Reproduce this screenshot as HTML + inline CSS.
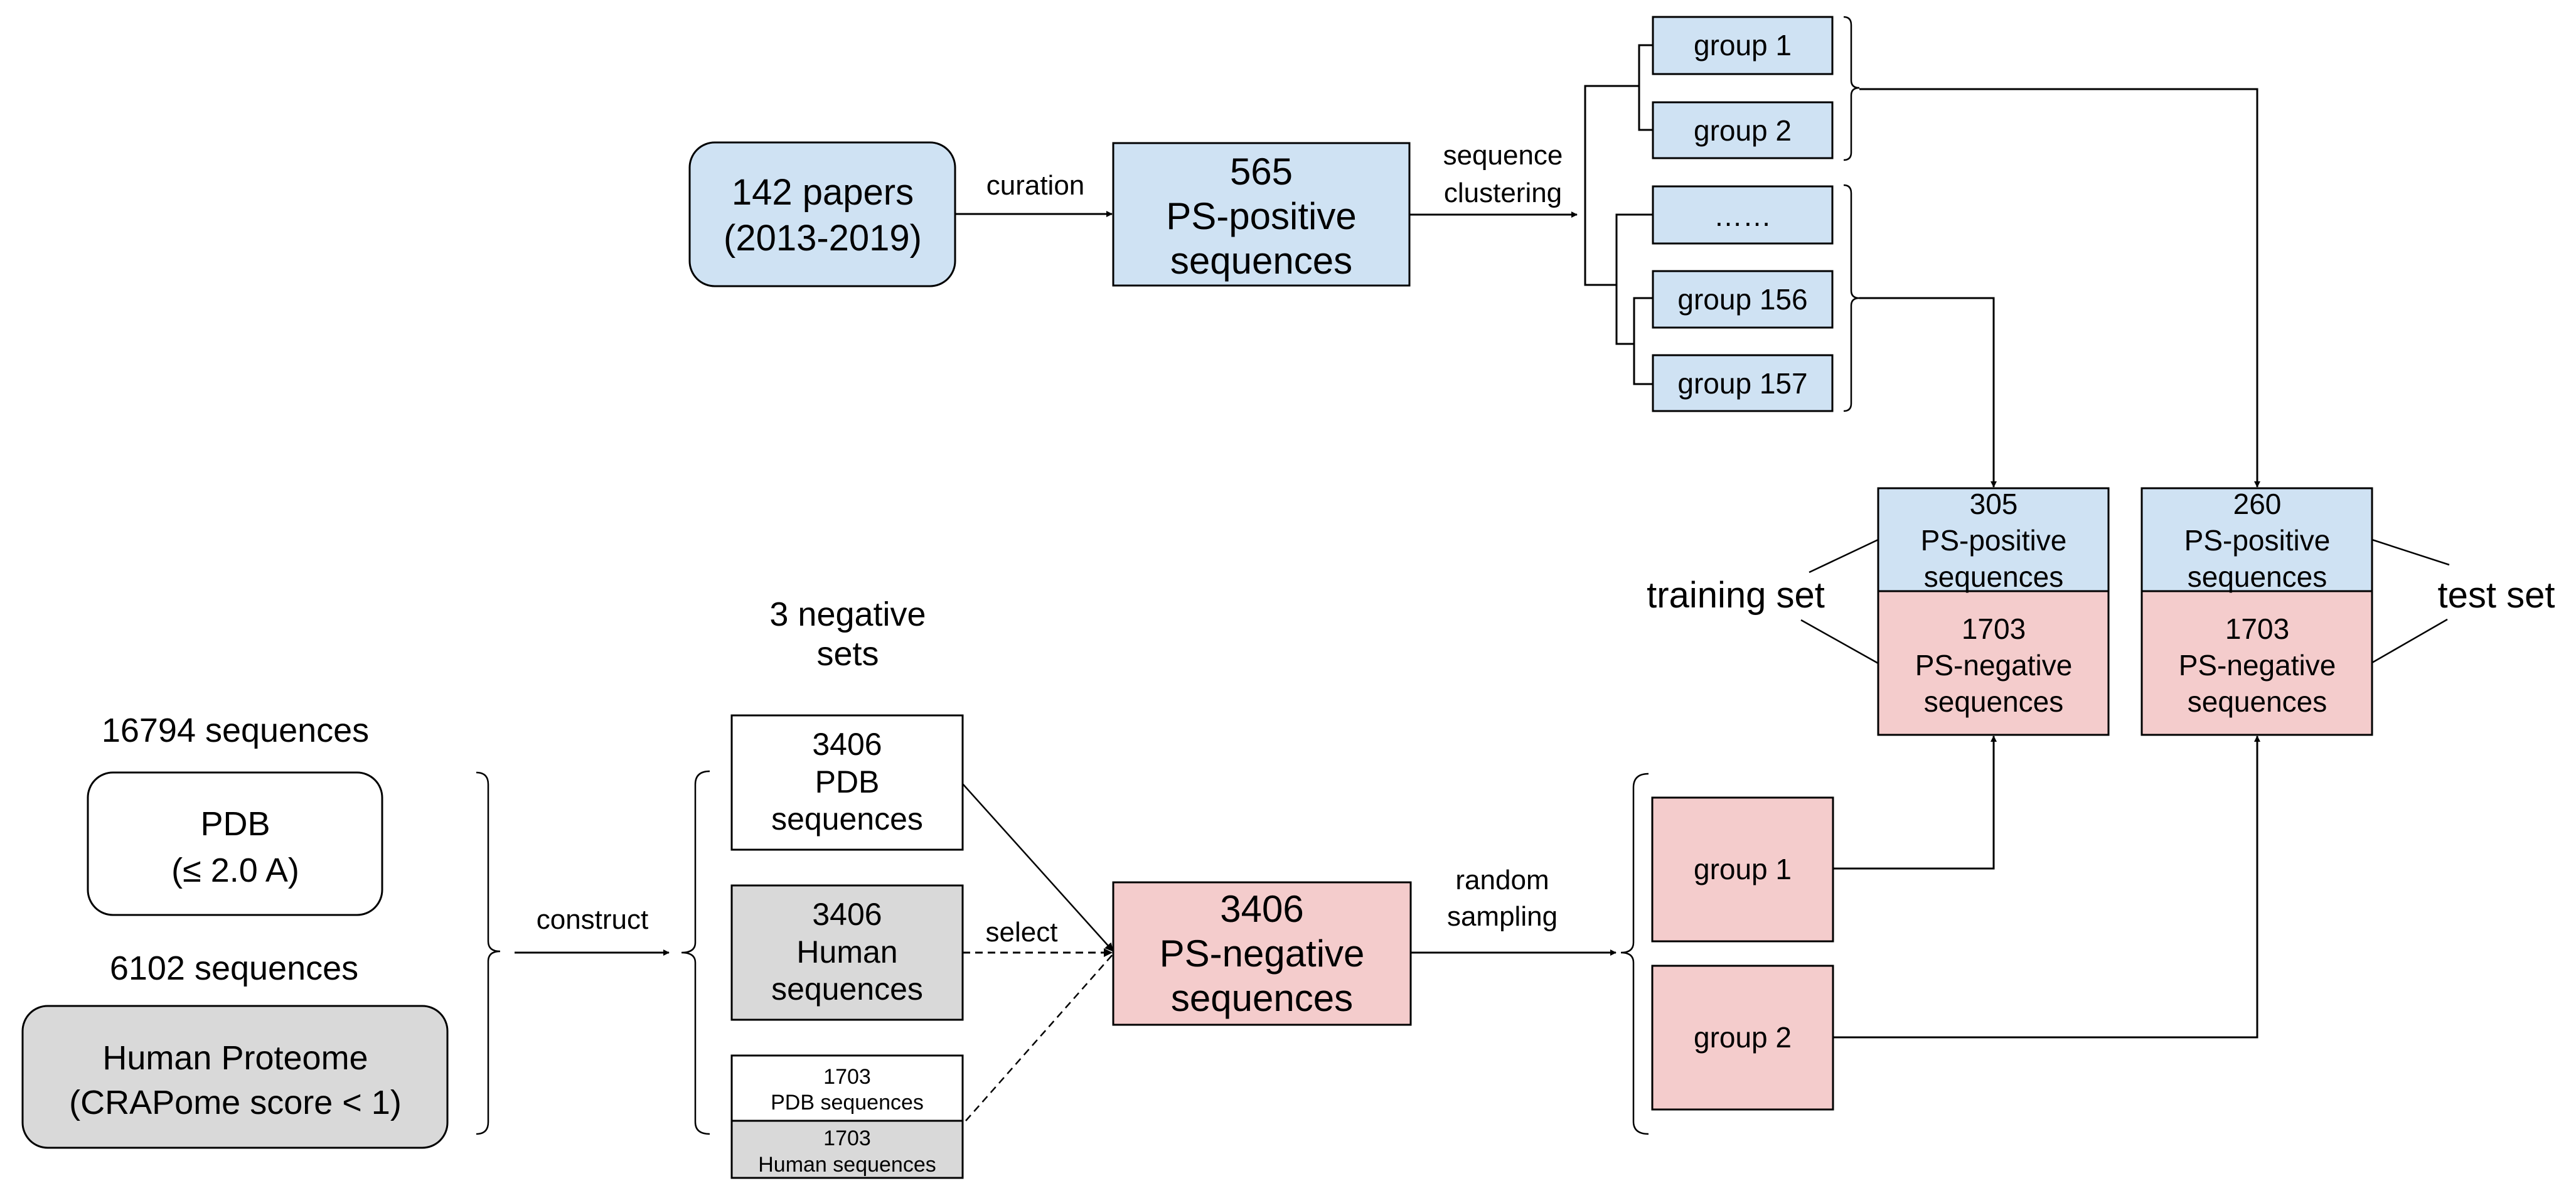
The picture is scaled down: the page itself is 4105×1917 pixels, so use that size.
<!DOCTYPE html>
<html><head><meta charset="utf-8"><style>
html,body{margin:0;padding:0;background:#fff;}
svg{display:block;}
text{font-family:"Liberation Sans",Arial,sans-serif;fill:#000;}
</style></head><body>
<svg width="4105" height="1917" viewBox="0 0 4105 1917" xmlns="http://www.w3.org/2000/svg">
<defs>
<marker id="ah" markerWidth="10" markerHeight="10" refX="9" refY="5" orient="auto" markerUnits="userSpaceOnUse">
<path d="M0,0 L10,5 L0,10 z" fill="#000"/>
</marker>
<marker id="ah2" markerWidth="14" markerHeight="14" refX="13" refY="7" orient="auto" markerUnits="userSpaceOnUse">
<path d="M0,0 L14,7 L0,14 z" fill="#000"/>
</marker>
</defs>
<g stroke="#000" stroke-width="3" fill="none">
<!-- top row -->
<rect x="1099" y="227" width="423" height="229" rx="40" fill="#cfe2f3"/>
<rect x="1774" y="228" width="472" height="227" fill="#cfe2f3"/>
<line x1="1522" y1="341" x2="1772" y2="341" marker-end="url(#ah)"/>
<line x1="2246" y1="342" x2="2513" y2="342" marker-end="url(#ah)"/>
<!-- tree -->
<polyline points="2612,72 2634,72"/>
<polyline points="2634,72 2612,72 2612,207 2634,207"/>
<polyline points="2612,137 2526,137 2526,454 2576,454"/>
<polyline points="2634,342 2576,342 2576,548 2604,548"/>
<polyline points="2634,475 2604,475 2604,612 2634,612"/>
<rect x="2634" y="27" width="286" height="91" fill="#cfe2f3"/>
<rect x="2634" y="163" width="286" height="89" fill="#cfe2f3"/>
<rect x="2634" y="297" width="286" height="91" fill="#cfe2f3"/>
<rect x="2634" y="432" width="286" height="90" fill="#cfe2f3"/>
<rect x="2634" y="566" width="286" height="89" fill="#cfe2f3"/>
<!-- right braces top -->
<path d="M2938,27 Q2950,27 2950,40 L2950,128 Q2950,140 2963,140 Q2950,140 2950,152 L2950,243 Q2950,255 2938,255" stroke-width="2.5"/>
<path d="M2938,295 Q2950,295 2950,308 L2950,463 Q2950,475 2963,475 Q2950,475 2950,487 L2950,643 Q2950,655 2938,655" stroke-width="2.5"/>
<polyline points="2963,142 3597,142 3597,776" marker-end="url(#ah)"/>
<polyline points="2963,475 3177,475 3177,776" marker-end="url(#ah)"/>
<!-- train/test boxes -->
<rect x="2993" y="778" width="367" height="164" fill="#cfe2f3"/>
<rect x="2993" y="942" width="367" height="229" fill="#f4cccc"/>
<rect x="3413" y="778" width="367" height="164" fill="#cfe2f3"/>
<rect x="3413" y="942" width="367" height="229" fill="#f4cccc"/>
<line x1="2993" y1="860" x2="2883" y2="912" stroke-width="2.5"/>
<line x1="2993" y1="1057" x2="2870" y2="988" stroke-width="2.5"/>
<line x1="3780" y1="860" x2="3903" y2="900" stroke-width="2.5"/>
<line x1="3780" y1="1056" x2="3900" y2="987" stroke-width="2.5"/>
<!-- bottom left -->
<rect x="140" y="1231" width="469" height="227" rx="40" fill="#fff"/>
<rect x="36" y="1603" width="677" height="226" rx="40" fill="#d9d9d9"/>
<path d="M759,1231 Q778,1231 778,1250 L778,1500 Q778,1516 797,1516 Q778,1516 778,1532 L778,1788 Q778,1807 759,1807" stroke-width="2.5"/>
<line x1="820" y1="1518" x2="1066" y2="1518" marker-end="url(#ah)"/>
<path d="M1131,1229 Q1108,1229 1108,1250 L1108,1502 Q1108,1518 1086,1518 Q1108,1518 1108,1534 L1108,1788 Q1108,1807 1131,1807" stroke-width="2.5"/>
<rect x="1166" y="1140" width="368" height="214" fill="#fff"/>
<rect x="1166" y="1411" width="368" height="214" fill="#d9d9d9"/>
<rect x="1166" y="1682" width="368" height="104" fill="#fff"/>
<rect x="1166" y="1786" width="368" height="91" fill="#d9d9d9"/>
<rect x="1774" y="1406" width="474" height="227" fill="#f4cccc"/>
<line x1="1534" y1="1249" x2="1774" y2="1516" stroke-width="2.5" marker-end="url(#ah2)"/>
<line x1="1534" y1="1518" x2="1772" y2="1518" stroke-dasharray="12,8" marker-end="url(#ah2)"/>
<line x1="1539" y1="1786" x2="1774" y2="1520" stroke-width="2.5" stroke-dasharray="12,8"/>
<line x1="2248" y1="1518" x2="2575" y2="1518" marker-end="url(#ah)"/>
<path d="M2627,1233 Q2603,1233 2603,1255 L2603,1502 Q2603,1518 2583,1518 Q2603,1518 2603,1534 L2603,1787 Q2603,1807 2627,1807" stroke-width="2.5"/>
<rect x="2633" y="1271" width="288" height="229" fill="#f4cccc"/>
<rect x="2633" y="1539" width="288" height="229" fill="#f4cccc"/>
<polyline points="2921,1384 3177,1384 3177,1173" marker-end="url(#ah)"/>
<polyline points="2921,1653 3597,1653 3597,1173" marker-end="url(#ah)"/>
</g>
<g text-anchor="middle">
<text x="1311" y="326" font-size="58">142 papers</text>
<text x="1311" y="399" font-size="58">(2013-2019)</text>
<text x="1650" y="310" font-size="44">curation</text>
<text x="2010" y="294" font-size="60">565</text>
<text x="2010" y="365" font-size="60">PS-positive</text>
<text x="2010" y="436" font-size="60">sequences</text>
<text x="2395" y="262" font-size="44">sequence</text>
<text x="2395" y="322" font-size="44">clustering</text>
<text x="2777" y="88" font-size="46">group 1</text>
<text x="2777" y="224" font-size="46">group 2</text>
<text x="2777" y="360" font-size="46">……</text>
<text x="2777" y="493" font-size="46">group 156</text>
<text x="2777" y="627" font-size="46">group 157</text>
<text x="3177" y="819" font-size="46">305</text>
<text x="3177" y="877" font-size="46">PS-positive</text>
<text x="3177" y="935" font-size="46">sequences</text>
<text x="3177" y="1018" font-size="46">1703</text>
<text x="3177" y="1076" font-size="46">PS-negative</text>
<text x="3177" y="1134" font-size="46">sequences</text>
<text x="3597" y="819" font-size="46">260</text>
<text x="3597" y="877" font-size="46">PS-positive</text>
<text x="3597" y="935" font-size="46">sequences</text>
<text x="3597" y="1018" font-size="46">1703</text>
<text x="3597" y="1076" font-size="46">PS-negative</text>
<text x="3597" y="1134" font-size="46">sequences</text>
<text x="2766" y="968" font-size="58">training set</text>
<text x="3978" y="968" font-size="58">test set</text>
<text x="375" y="1182" font-size="54">16794 sequences</text>
<text x="375" y="1331" font-size="54">PDB</text>
<text x="375" y="1405" font-size="54">(≤ 2.0 A)</text>
<text x="373" y="1561" font-size="54">6102 sequences</text>
<text x="375" y="1704" font-size="54">Human Proteome</text>
<text x="375" y="1775" font-size="54">(CRAPome score &lt; 1)</text>
<text x="944" y="1480" font-size="44">construct</text>
<text x="1351" y="997" font-size="54">3 negative</text>
<text x="1351" y="1060" font-size="54">sets</text>
<text x="1350" y="1203" font-size="50">3406</text>
<text x="1350" y="1263" font-size="50">PDB</text>
<text x="1350" y="1322" font-size="50">sequences</text>
<text x="1350" y="1474" font-size="50">3406</text>
<text x="1350" y="1534" font-size="50">Human</text>
<text x="1350" y="1593" font-size="50">sequences</text>
<text x="1350" y="1727" font-size="34">1703</text>
<text x="1350" y="1768" font-size="34">PDB sequences</text>
<text x="1350" y="1825" font-size="34">1703</text>
<text x="1350" y="1867" font-size="34">Human sequences</text>
<text x="1628" y="1500" font-size="44">select</text>
<text x="2011" y="1469" font-size="60">3406</text>
<text x="2011" y="1540" font-size="60">PS-negative</text>
<text x="2011" y="1611" font-size="60">sequences</text>
<text x="2394" y="1417" font-size="44">random</text>
<text x="2394" y="1475" font-size="44">sampling</text>
<text x="2777" y="1401" font-size="46">group 1</text>
<text x="2777" y="1669" font-size="46">group 2</text>
</g>
</svg>
</body></html>
